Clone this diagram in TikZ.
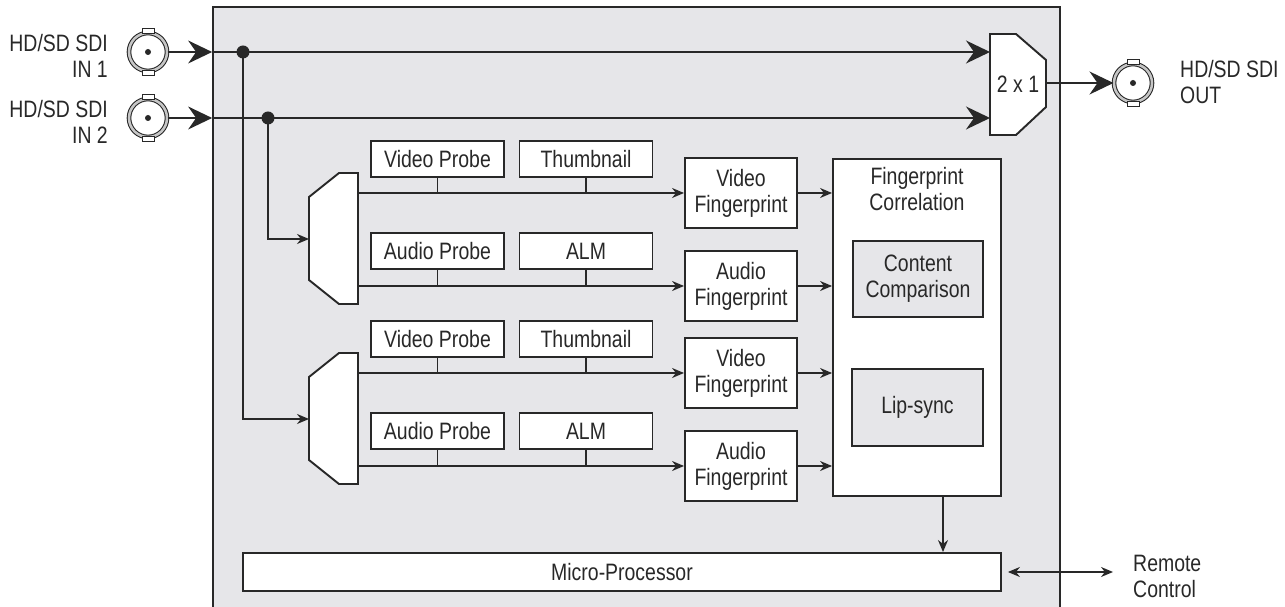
\documentclass[tikz,border=0pt]{standalone}
\usepackage{fontspec}
\setmainfont[FakeStretch=0.82]{Liberation Sans}
\usetikzlibrary{arrows.meta,positioning}
\definecolor{panel}{RGB}{230,230,233}
\definecolor{ink}{RGB}{40,40,40}

\begin{document}
\begin{tikzpicture}[x=0.02cm, y=-0.02cm,
    font=\fontsize{13.5}{14.8}\selectfont, text=ink,
    block/.style={draw=ink, line width=1.1pt, fill=white, inner sep=0pt, align=center},
    probe/.style={block, minimum width=2.66cm, minimum height=0.72cm},
    print/.style={block, minimum width=2.24cm, minimum height=1.4cm},
    wire/.style={draw=ink, line width=0.8pt},
    feed/.style={wire, -{Stealth[length=0.24cm, width=0.2cm]}},
    bigfeed/.style={wire, -{Stealth[length=0.48cm, width=0.46cm, inset=0.16cm]}},
    joint/.style={circle, fill=ink, inner sep=0pt, minimum size=0.26cm},
    bnc/.style={circle, draw=ink, line width=0.6pt, double=gray!45, double distance=0.05cm,
        fill=white, minimum size=0.76cm, inner sep=0pt}]

    \useasboundingbox (0,0) rectangle (1285,607);

    % chassis
    \node[draw=ink, line width=1.1pt, fill=panel, minimum width=16.94cm, minimum height=12.16cm,
        inner sep=0pt] (chassis) at (636.5,311) {};

    % connectors
    \node[bnc] (in1) at (148,52) {};
    \node[bnc] (in2) at (148,118) {};
    \node[bnc] (out) at (1133,83) {};
    \foreach \c in {in1,in2,out} {
        \fill[ink] (\c) circle (0.06cm);
        \draw[ink, fill=white, line width=0.5pt] ([xshift=-0.12cm, yshift=-0.02cm]\c.north)
            rectangle ([xshift=0.12cm, yshift=0.08cm]\c.north);
        \draw[ink, fill=white, line width=0.5pt] ([xshift=-0.12cm, yshift=0.02cm]\c.south)
            rectangle ([xshift=0.12cm, yshift=-0.08cm]\c.south);
    }
    \node[anchor=east, align=right] (in1txt) at (114,56) {HD/SD SDI\\IN 1};
    \node[anchor=east, align=right] (in2txt) at (114,122) {HD/SD SDI\\IN 2};
    \node[anchor=west, align=left] (outtxt) at (1174,82) {HD/SD SDI\\OUT};

    % 2 x 1 switch
    \draw[block] (990,34) -- (1016,34) -- (1046,60) -- (1046,107) -- (1016,135) -- (990,135) -- cycle;
    \node (mux) at (1018,84) {2 x 1};
    \coordinate (muxa) at (990,52);
    \coordinate (muxb) at (990,118);
    \coordinate (muxo) at (1046,83);

    % splitters
    \draw[block] (339,173) -- (358,173) -- (358,304) -- (339,304) -- (309,280) -- (309,197) -- cycle;
    \draw[block] (339,353) -- (358,353) -- (358,484) -- (339,484) -- (309,460) -- (309,377) -- cycle;
    \coordinate (dmx1) at (309,239);
    \coordinate (dmx1v) at (358,193);
    \coordinate (dmx1a) at (358,286);
    \coordinate (dmx2) at (309,419);
    \coordinate (dmx2v) at (358,373);
    \coordinate (dmx2a) at (358,466);

    % probes
    \node[probe] (vprobe1) at (437.5,159) {Video Probe};
    \node[probe] (thumb1) at (586,159) {Thumbnail};
    \node[probe] (aprobe1) at (437.5,251) {Audio Probe};
    \node[probe] (alm1) at (586,251) {ALM};
    \node[probe] (vprobe2) at (437.5,339) {Video Probe};
    \node[probe] (thumb2) at (586,339) {Thumbnail};
    \node[probe] (aprobe2) at (437.5,431) {Audio Probe};
    \node[probe] (alm2) at (586,431) {ALM};

    % fingerprints
    \node[print] (vfp1) at (741,193) {Video\\Fingerprint};
    \node[print] (afp1) at (741,286) {Audio\\Fingerprint};
    \node[print] (vfp2) at (741,373) {Video\\Fingerprint};
    \node[print] (afp2) at (741,466) {Audio\\Fingerprint};

    % correlation
    \node[block, minimum width=3.36cm, minimum height=6.74cm] (corr) at (917,327.5) {};
    \node[align=center] (corrtxt) at (917,189) {Fingerprint\\Correlation};
    \node[block, fill=panel, minimum width=2.6cm, minimum height=1.52cm] (compare) at (918,279) {Content\\Comparison};
    \node[block, fill=panel, minimum width=2.62cm, minimum height=1.54cm] (lipsync) at (917.5,407.5) {Lip-sync};

    % processor
    \node[block, minimum width=15.16cm, minimum height=0.76cm] (micro) at (622,572) {Micro-Processor};
    \coordinate (remote) at (1113,572);
    \node[anchor=west, align=left] (remotetxt) at (1127,576) {Remote\\Control};

    % inputs
    \draw[bigfeed] (in1) -- (in1 -| chassis.west);
    \draw[bigfeed] (in2) -- (in2 -| chassis.west);
    \draw[bigfeed] (in1 -| chassis.west) -- (muxa);
    \draw[bigfeed] (in2 -| chassis.west) -- (muxb);
    \draw[bigfeed] (muxo) -- (out);
    \node[joint] (j1) at (243,52) {};
    \node[joint] (j2) at (268,118) {};
    \draw[feed] (j2.center) |- (dmx1);
    \draw[feed] (j1.center) |- (dmx2);

    % signal paths
    \draw[feed] (dmx1v) -- (vfp1);
    \draw[feed] (dmx1a) -- (afp1);
    \draw[feed] (dmx2v) -- (vfp2);
    \draw[feed] (dmx2a) -- (afp2);
    \draw[wire] (vprobe1) -- (vprobe1 |- dmx1v);
    \draw[wire] (thumb1) -- (thumb1 |- dmx1v);
    \draw[wire] (aprobe1) -- (aprobe1 |- dmx1a);
    \draw[wire] (alm1) -- (alm1 |- dmx1a);
    \draw[wire] (vprobe2) -- (vprobe2 |- dmx2v);
    \draw[wire] (thumb2) -- (thumb2 |- dmx2v);
    \draw[wire] (aprobe2) -- (aprobe2 |- dmx2a);
    \draw[wire] (alm2) -- (alm2 |- dmx2a);
    \draw[feed] (vfp1) -- (vfp1 -| corr.west);
    \draw[feed] (afp1) -- (afp1 -| corr.west);
    \draw[feed] (vfp2) -- (vfp2 -| corr.west);
    \draw[feed] (afp2) -- (afp2 -| corr.west);
    \draw[feed] ([xshift=0.52cm]corr.south) -- ([xshift=0.52cm]corr.south |- micro.north);
    \draw[wire, {Stealth[length=0.24cm, width=0.2cm]}-{Stealth[length=0.24cm, width=0.2cm]}]
        ([xshift=0.12cm]micro.east) -- (remote);
\end{tikzpicture}
\end{document}
